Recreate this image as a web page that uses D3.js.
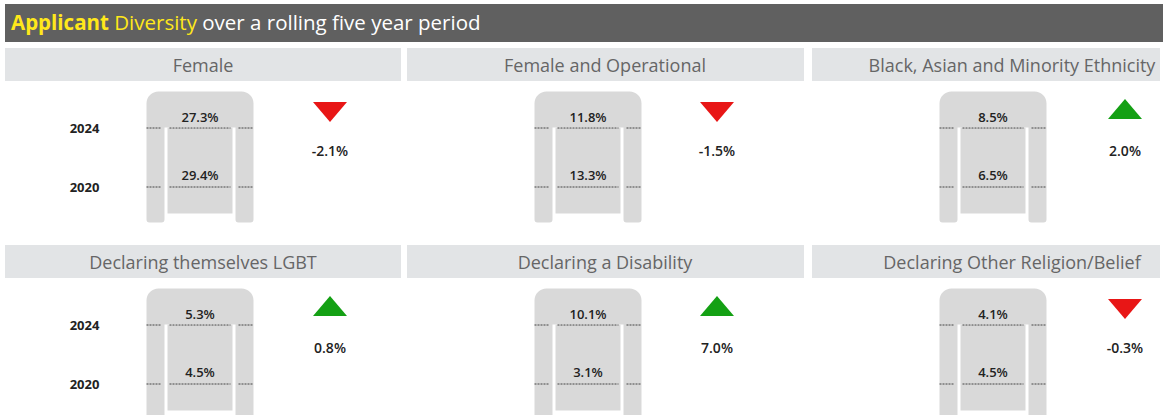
<!DOCTYPE html>
<html>
<head>
<meta charset="utf-8">
<script src="https://cdn.jsdelivr.net/npm/d3@7"></script>
<style>
  body { margin: 0; background: #fff; }
  svg { display: block; font-family: "Open Sans", "Noto Sans", sans-serif; }
</style>
</head>
<body>
<div id="chart"></div>
<script>
// Chart data
var measures = ["Female", "Female and Operational", "Black, Asian and Minority Ethnicity",
  "Declaring themselves LGBT", "Declaring a Disability", "Declaring Other Religion/Belief"];
var years = ["2024", "2020"];
var values2024 = [27.3, 11.8, 8.5, 5.3, 10.1, 4.1];
var values2020 = [29.4, 13.3, 6.5, 4.5, 3.1, 4.5];
var changes = [-2.1, -1.5, 2.0, 0.8, 7.0, -0.3];

var W = 1163, H = 415;

var svg = d3.select("#chart").append("svg")
  .attr("width", W)
  .attr("height", H);

// title bar
svg.append("rect")
  .attr("x", 5).attr("y", 4)
  .attr("width", W - 5).attr("height", 38)
  .attr("fill", "#606060");

var title = svg.append("text")
  .attr("x", 11).attr("y", 30)
  .attr("font-size", "20.5px");
title.append("tspan").attr("fill", "#ffe81a").attr("font-weight", 700).text("Applicant ");
title.append("tspan").attr("fill", "#ffe81a").text("Diversity ");
title.append("tspan").attr("fill", "#fff").text("over a rolling five year period");

// layout of the 3 x 2 grid
var panelLeft = [5, 407, 812];
var panelRight = [401, 804, 1160];
var headerCx = [203, 605, 1012];
var gateCx = [200, 588, 993];
var arrowCx = [330, 717, 1125];
var rowOffset = 197;

// year positions (dashed lines)
var yPos = d3.scalePoint().domain(years).range([127.5, 186.5]);

var fmt = d => d.toFixed(1) + "%";

var data = measures.map((m, i) => ({
  name: m, v2024: values2024[i], v2020: values2020[i], change: changes[i],
  col: i % 3, row: Math.floor(i / 3)
}));

var panels = svg.selectAll("g.panel")
  .data(data)
  .enter()
  .append("g")
  .attr("class", "panel")
  .attr("transform", d => `translate(0, ${d.row * rowOffset})`);

// header boxes
panels.append("rect")
  .attr("x", d => panelLeft[d.col])
  .attr("y", 48)
  .attr("width", d => panelRight[d.col] - panelLeft[d.col])
  .attr("height", 33)
  .attr("fill", "#e2e4e6");

panels.append("text")
  .attr("x", d => headerCx[d.col])
  .attr("y", 71.5)
  .attr("text-anchor", "middle")
  .attr("font-size", "18px")
  .attr("fill", "#666")
  .text(d => d.name);

// gate shape: top cap + two legs and the inner block
var gw = 107, legW = 18, gap = 3, r = 12;
var yTop = yPos("2024") - 36, yLegBottom = yPos("2020") + 36, yInnerBottom = yPos("2020") + 27;

panels.each(function(d) {
  var g = d3.select(this);
  var x0 = gateCx[d.col] - gw / 2;
  var x1 = x0 + gw;
  var yc = yPos("2024");

  var p = d3.path();
  p.moveTo(x0, yLegBottom - 3);
  p.lineTo(x0, yTop + r);
  p.arcTo(x0, yTop, x0 + r, yTop, r);
  p.lineTo(x1 - r, yTop);
  p.arcTo(x1, yTop, x1, yTop + r, r);
  p.lineTo(x1, yLegBottom - 3);
  p.arcTo(x1, yLegBottom, x1 - 3, yLegBottom, 3);
  p.lineTo(x1 - legW + 3, yLegBottom);
  p.arcTo(x1 - legW, yLegBottom, x1 - legW, yLegBottom - 3, 3);
  p.lineTo(x1 - legW, yc);
  p.lineTo(x0 + legW, yc);
  p.lineTo(x0 + legW, yLegBottom - 3);
  p.arcTo(x0 + legW, yLegBottom, x0 + legW - 3, yLegBottom, 3);
  p.lineTo(x0 + 3, yLegBottom);
  p.arcTo(x0, yLegBottom, x0, yLegBottom - 3, 3);
  p.closePath();

  g.append("path")
    .attr("d", p.toString())
    .attr("fill", "#d9d9d9");

  g.append("rect")
    .attr("x", x0 + legW + gap)
    .attr("y", yc)
    .attr("width", gw - 2 * (legW + gap))
    .attr("height", yInnerBottom - yc)
    .attr("fill", "#d9d9d9");

  // dashed lines for each year
  var segs = [[x0, x0 + legW - 3], [x0 + legW + gap + 2, x1 - legW - gap - 2], [x1 - legW + 3, x1]];
  years.forEach(function(yr) {
    segs.forEach(function(s) {
      g.append("line")
        .attr("x1", s[0]).attr("x2", s[1])
        .attr("y1", yPos(yr) + 0.5).attr("y2", yPos(yr) + 0.5)
        .attr("stroke", "#444")
        .attr("stroke-width", 1)
        .attr("stroke-dasharray", "2,1");
    });
  });

  // value labels
  g.append("text")
    .attr("x", gateCx[d.col])
    .attr("y", yPos("2024") - 6)
    .attr("text-anchor", "middle")
    .attr("font-size", "13px")
    .attr("font-weight", 600)
    .attr("fill", "#222")
    .text(fmt(d.v2024));

  g.append("text")
    .attr("x", gateCx[d.col])
    .attr("y", yPos("2020") - 7)
    .attr("text-anchor", "middle")
    .attr("font-size", "13px")
    .attr("font-weight", 600)
    .attr("fill", "#222")
    .text(fmt(d.v2020));

  // change arrow
  var ax = arrowCx[d.col];
  var up = d.change >= 0;
  var tri = up
    ? [[ax - 17, 119], [ax + 17, 119], [ax, 99]]
    : [[ax - 17, 102], [ax + 17, 102], [ax, 122]];
  g.append("path")
    .attr("d", d3.line()(tri) + "Z")
    .attr("fill", up ? "#14a014" : "#e81616");

  g.append("text")
    .attr("x", ax)
    .attr("y", 155.5)
    .attr("text-anchor", "middle")
    .attr("font-size", "14px")
    .attr("font-weight", 600)
    .attr("fill", "#222")
    .text(fmt(d.change));

  // year labels only on the first column
  if (d.col === 0) {
    years.forEach(function(yr) {
      g.append("text")
        .attr("x", 84.5)
        .attr("y", yPos(yr) + 5)
        .attr("text-anchor", "middle")
        .attr("font-size", "13px")
        .attr("font-weight", 700)
        .attr("fill", "#222")
        .text(yr);
    });
  }
});
</script>
</body>
</html>
